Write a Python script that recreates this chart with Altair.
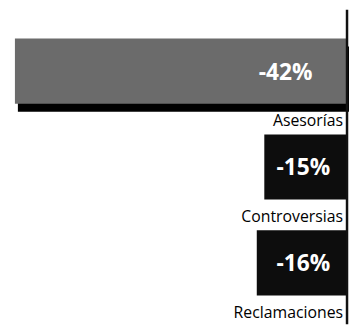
import altair as alt
import pandas as pd

# Data
categories = ["Asesorías", "Controversias", "Reclamaciones"]
values = [-42, -15, -16]

# Styles
bar_colors = ["#6b6b6b", "#0d0d0d", "#0d0d0d"]
FONT = "Open Sans"

df = pd.DataFrame({"categoria": categories, "cambio": values})
zero_df = pd.DataFrame({"cero": [0]})

x_scale = alt.Scale(type="pow", exponent=1.35, domain=[-42, 0], range=[7, 343], nice=False, zero=False)
y_scale = alt.Scale(domain=categories, range=[13.5, 304.5], paddingInner=0.32, paddingOuter=0.16)

base = alt.Chart(df).encode(
    y=alt.Y("categoria:N", scale=y_scale, axis=None, sort=categories),
)

shadow = base.transform_filter(alt.datum.categoria == "Asesorías").mark_bar(
    color="#000000", xOffset=3, x2Offset=3, yOffset=8, y2Offset=8
).encode(
    x=alt.X("cambio:Q", scale=x_scale, axis=None),
    x2=alt.datum(0),
)

bars = base.mark_bar().encode(
    x=alt.X("cambio:Q", scale=x_scale, axis=None),
    x2=alt.datum(0),
    color=alt.Color("categoria:N", scale=alt.Scale(domain=categories, range=bar_colors), legend=None),
)

axis_line = alt.Chart(zero_df).mark_rule(color="#111111", strokeWidth=2.5).encode(
    x=alt.X("cero:Q", scale=x_scale, axis=None),
    y=alt.value(0),
    y2=alt.value(318),
)

val_big = base.transform_filter(alt.datum.categoria == "Asesorías").transform_calculate(
    etq="toString(datum.cambio) + '%'"
).mark_text(
    align="right", baseline="middle", dx=-35, dy=2, fontSize=23, fontWeight="bold",
    color="white", font=FONT
).encode(x=alt.datum(0), text="etq:N")

val_small = base.transform_filter(alt.datum.categoria != "Asesorías").transform_calculate(
    etq="toString(datum.cambio) + '%'"
).mark_text(
    align="right", baseline="middle", dx=-17, dy=1, fontSize=23, fontWeight="bold",
    color="white", font=FONT
).encode(x=alt.datum(0), text="etq:N")

labels = base.mark_text(
    align="right", baseline="middle", dx=-4, dy=51, fontSize=16, color="#000000", font=FONT
).encode(x=alt.datum(0), text="categoria:N")

chart = alt.layer(shadow, bars, axis_line, val_big, val_small, labels).properties(
    width=345, height=318, padding=0, autosize=alt.AutoSizeParams(type="none")
).configure_view(stroke=None)

chart.save("out.html", embed_options={"renderer": "svg", "actions": False})
